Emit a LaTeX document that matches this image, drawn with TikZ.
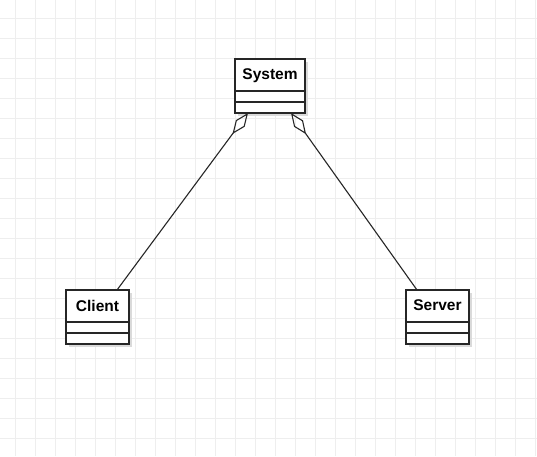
\documentclass[tikz,border=0pt]{standalone}
\usepackage{fontspec}
\setmainfont{Liberation Sans}
\usepackage{xcolor}
\usepackage{tikz}
\usetikzlibrary{positioning,shadows,arrows.meta}

\definecolor{gridgray}{HTML}{EEEEEE}
\definecolor{shadowgray}{HTML}{DADADA}

\tikzset{
	gridline/.style={draw=gridgray, line width=1pt},
	classbox/.style={draw=black!85, fill=white, line width=1.2pt, outer sep=0pt, inner sep=0pt,
		drop shadow={shadow xshift=3pt, shadow yshift=-3pt, opacity=1, fill=shadowgray}},
	classhead/.style={classbox, minimum height=32pt, text depth=1pt, font=\fontsize{15.5}{18}\selectfont\bfseries},
	classpart/.style={classbox, minimum height=11pt},
	aggregation/.style={draw=black!85, line width=1.1pt, -{Diamond[open, length=26pt, width=11pt]}}
}

\begin{document}
\begin{tikzpicture}[x=1pt, y=-1pt]
			\useasboundingbox[fill=white] (0,0) rectangle (537,456);
			\foreach \gx in {15,35,...,535}
				\draw[gridline] (\gx,0) -- (\gx,456);
			\foreach \gy in {18,38,...,458}
				\draw[gridline] (0,\gy) -- (537,\gy);

			% classes
			\node[classhead, minimum width=70pt] (system) at (270,75) {System};
			\node[classpart, minimum width=70pt, below=0pt of system] (system-attr) {};
			\node[classpart, minimum width=70pt, below=0pt of system-attr] (system-ops) {};

			\node[classhead, minimum width=63pt] (client) at (97.5,306) {Client};
			\node[classpart, minimum width=63pt, below=0pt of client] (client-attr) {};
			\node[classpart, minimum width=63pt, below=0pt of client-attr] (client-ops) {};

			\node[classhead, minimum width=63pt] (server) at (437.5,306) {Server};
			\node[classpart, minimum width=63pt, below=0pt of server] (server-attr) {};
			\node[classpart, minimum width=63pt, below=0pt of server-attr] (server-ops) {};

			% aggregations
			\draw[aggregation] ([xshift=-12pt]client.north east) -- ([xshift=13pt]system-ops.south west);
			\draw[aggregation] ([xshift=11pt]server.north west) -- ([xshift=-14pt]system-ops.south east);
\end{tikzpicture}
\end{document}
